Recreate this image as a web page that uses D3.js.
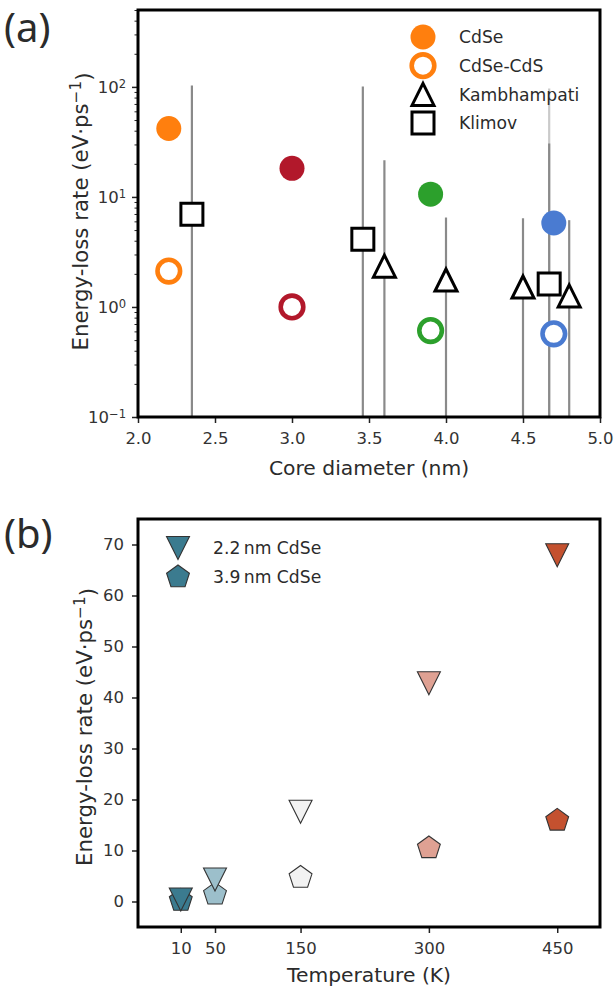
<!DOCTYPE html>
<html>
<head>
<meta charset="utf-8">
<script src="https://cdn.jsdelivr.net/npm/d3@7"></script>
<style>
  body { margin: 0; background: #fff; }
  text { font-family: "DejaVu Sans", sans-serif; fill: #2b2b2b; }
</style>
</head>
<body>
<svg id="fig" width="614" height="992"></svg>
<script>
// ---- panel (a) data ----
const cdseD = [2.2, 3.0, 3.9, 4.7];
const cdseRate = [41.9, 18.2, 10.6, 5.8];
const cdsRate = [2.12, 1.0, 0.61, 0.57];
const sizeColors = ['#ff7f0e', '#b2182b', '#2ca02c', '#4a7bd1'];

const klimovD = [2.35, 3.46, 4.67];
const klimovRate = [6.96, 4.13, 1.62];
const kambD = [3.6, 4.0, 4.5, 4.8];
const kambRate = [2.35, 1.76, 1.52, 1.26];

// vertical range lines (x, upper end)
const rangeX = [2.35, 3.46, 3.6, 4.0, 4.5, 4.8, 4.67];
const rangeTop = [103, 101, 21.5, 6.5, 6.4, 6.15, 30.6];
const faintX = [4.67];
const faintTop = [96.6];

const legendA = ['CdSe', 'CdSe-CdS', 'Kambhampati', 'Klimov'];
const xTicksA = [2.0, 2.5, 3.0, 3.5, 4.0, 4.5, 5.0];
const yTicksA = [0.1, 1, 10, 100];

// ---- panel (b) data ----
const temps = [10, 50, 150, 300, 450];
const rate22 = [0.4, 4.3, 17.6, 42.8, 67.9];
const rate39 = [0.2, 1.4, 4.7, 10.5, 15.9];
const tempColors = ['#3b7b8f', '#9cbfcb', '#f2f2f2', '#dfa193', '#c4512f'];
const legendB = ['2.2\u2009nm CdSe', '3.9\u2009nm CdSe'];
const yTicksB = [0, 10, 20, 30, 40, 50, 60, 70];

const svg = d3.select('#fig');
const tickFont = 16.5, labelFont = 20.3, yLabelFont = 21.3, legendFont = 17.2;

// marker shapes
function triUp(s) { return `M0,${-s}L${s},${s}L${-s},${s}Z`; }
function triDown(s) { return `M0,${s}L${s},${-s}L${-s},${-s}Z`; }
function square(s) { return `M${-s},${-s}H${s}V${s}H${-s}Z`; }
function pentagon(r) {
  const pts = d3.range(5).map(i => {
    const a = -Math.PI / 2 + i * 2 * Math.PI / 5;
    return [r * Math.cos(a), r * Math.sin(a)];
  });
  return 'M' + pts.join('L') + 'Z';
}

function styleAxis(g) {
  g.select('.domain').remove();
  g.selectAll('.tick line').attr('stroke', '#222').attr('stroke-width', 1.5);
  g.selectAll('.tick text').attr('font-size', tickFont).style('fill', '#333');
}

// =================== panel (a) ===================
const mA = {left: 138, right: 600, top: 10, bottom: 417};
const x = d3.scaleLinear().domain([2, 5]).range([mA.left, mA.right]);
const y = d3.scaleLog().domain([0.1, 500]).range([mA.bottom, mA.top]);

svg.append('defs').append('clipPath').attr('id', 'clipA')
  .append('rect')
  .attr('x', mA.left).attr('y', mA.top)
  .attr('width', mA.right - mA.left).attr('height', mA.bottom - mA.top);

const plotA = svg.append('g').attr('clip-path', 'url(#clipA)');

plotA.selectAll('.range')
  .data(rangeX.map((v, i) => ({x: v, top: rangeTop[i]})))
  .join('line')
  .attr('x1', d => x(d.x)).attr('x2', d => x(d.x))
  .attr('y1', y(0.05)).attr('y2', d => y(d.top))
  .attr('stroke', '#8a8a8a').attr('stroke-width', 2.2);

plotA.selectAll('.faint')
  .data(faintX.map((v, i) => ({x: v, top: faintTop[i]})))
  .join('line')
  .attr('x1', d => x(d.x)).attr('x2', d => x(d.x))
  .attr('y1', y(0.05)).attr('y2', d => y(d.top))
  .attr('stroke', '#8a8a8a').attr('stroke-opacity', 0.45).attr('stroke-width', 2.2);

// CdSe filled
plotA.selectAll('.cdse')
  .data(cdseD.map((d, i) => ({d, r: cdseRate[i], c: sizeColors[i]})))
  .join('circle')
  .attr('cx', d => x(d.d)).attr('cy', d => y(d.r)).attr('r', 12.5)
  .attr('fill', d => d.c);

// CdSe-CdS open
plotA.selectAll('.cds')
  .data(cdseD.map((d, i) => ({d, r: cdsRate[i], c: sizeColors[i]})))
  .join('circle')
  .attr('cx', d => x(d.d)).attr('cy', d => y(d.r)).attr('r', 11.3)
  .attr('fill', '#fff').attr('stroke', d => d.c).attr('stroke-width', 4.6);

// Klimov squares
plotA.selectAll('.klimov')
  .data(klimovD.map((d, i) => ({d, r: klimovRate[i]})))
  .join('path')
  .attr('transform', d => `translate(${x(d.d)},${y(d.r)})`)
  .attr('d', square(11))
  .attr('fill', '#fff').attr('stroke', '#000').attr('stroke-width', 3)
  .attr('stroke-linejoin', 'miter');

// Kambhampati triangles
plotA.selectAll('.kamb')
  .data(kambD.map((d, i) => ({d, r: kambRate[i]})))
  .join('path')
  .attr('transform', d => `translate(${x(d.d)},${y(d.r)})`)
  .attr('d', triUp(11))
  .attr('fill', '#fff').attr('stroke', '#000').attr('stroke-width', 3)
  .attr('stroke-linejoin', 'miter');

// axes (a)
const gxA = svg.append('g')
  .attr('transform', `translate(0,${mA.bottom})`)
  .call(d3.axisBottom(x).tickValues(xTicksA).tickFormat(d3.format('.1f')).tickSize(6).tickPadding(9));
styleAxis(gxA);

const minorA = [];
[0.1, 1, 10, 100].forEach(dec => d3.range(2, 10).forEach(k => {
  if (dec * k <= 500) minorA.push(dec * k);
}));
const gyMinor = svg.append('g')
  .attr('transform', `translate(${mA.left},0)`)
  .call(d3.axisLeft(y).tickValues(minorA).tickFormat('').tickSize(3.5));
gyMinor.select('.domain').remove();
gyMinor.selectAll('.tick line').attr('stroke', '#222').attr('stroke-width', 1);

const gyA = svg.append('g')
  .attr('transform', `translate(${mA.left},0)`)
  .call(d3.axisLeft(y).tickValues(yTicksA).tickFormat('').tickSize(6));
styleAxis(gyA);
gyA.selectAll('.tick').append('text')
  .attr('x', -12).attr('dy', '0.36em').attr('text-anchor', 'end')
  .attr('font-size', tickFont).style('fill', '#333')
  .each(function (d) {
    const t = d3.select(this);
    const e = Math.round(Math.log10(d));
    t.append('tspan').text('10');
    t.append('tspan').attr('dy', '-0.5em').attr('font-size', tickFont * 0.7)
      .text(e < 0 ? '\u2212' + (-e) : e);
  });

svg.append('rect')
  .attr('x', mA.left).attr('y', mA.top)
  .attr('width', mA.right - mA.left).attr('height', mA.bottom - mA.top)
  .attr('fill', 'none').attr('stroke', '#000').attr('stroke-width', 3);

svg.append('text')
  .attr('x', (mA.left + mA.right) / 2).attr('y', 475)
  .attr('text-anchor', 'middle').attr('font-size', labelFont)
  .text('Core diameter (nm)');

function yLabel(cx, cy) {
  const t = svg.append('text')
    .attr('transform', `translate(${cx},${cy}) rotate(-90)`)
    .attr('text-anchor', 'middle').attr('font-size', yLabelFont);
  t.append('tspan').text('Energy-loss rate (eV\u00b7ps');
  t.append('tspan').attr('dy', '-0.45em').attr('font-size', yLabelFont * 0.72).text('\u22121');
  t.append('tspan').attr('dy', '0.45em').text(')');
}
yLabel(88, (mA.top + mA.bottom) / 2 - 2);

svg.append('text').attr('x', 4).attr('y', 42)
  .style('font-family', '"Noto Sans", sans-serif').attr('font-size', 40).text('(a)');

// legend (a)
const legA = svg.append('g');
const legRowsA = legendA.map((name, i) => ({name, i, y: 37 + i * 28.7}));
legA.selectAll('text').data(legRowsA).join('text')
  .attr('x', 459).attr('y', d => d.y).attr('dy', '0.36em')
  .attr('font-size', legendFont).text(d => d.name);
legA.append('circle').attr('cx', 423).attr('cy', legRowsA[0].y).attr('r', 12.5)
  .attr('fill', sizeColors[0]);
legA.append('circle').attr('cx', 423).attr('cy', legRowsA[1].y).attr('r', 11.3)
  .attr('fill', '#fff').attr('stroke', sizeColors[0]).attr('stroke-width', 4.6);
legA.append('path').attr('transform', `translate(423,${legRowsA[2].y})`)
  .attr('d', triUp(11)).attr('fill', '#fff').attr('stroke', '#000').attr('stroke-width', 3);
legA.append('path').attr('transform', `translate(423,${legRowsA[3].y})`)
  .attr('d', square(11)).attr('fill', '#fff').attr('stroke', '#000').attr('stroke-width', 3);

// =================== panel (b) ===================
const mB = {left: 138, right: 600, top: 519, bottom: 927};
const xb = d3.scaleLinear().domain([-40, 500]).range([mB.left, mB.right]);
const yb = d3.scaleLinear().domain([-5, 75]).range([mB.bottom, mB.top]);

const plotB = svg.append('g');
plotB.selectAll('.pent')
  .data(temps.map((t, i) => ({t, r: rate39[i], c: tempColors[i]})))
  .join('path')
  .attr('transform', d => `translate(${xb(d.t)},${yb(d.r)})`)
  .attr('d', pentagon(12))
  .attr('fill', d => d.c).attr('stroke', '#333').attr('stroke-width', 1.1);
plotB.selectAll('.tri')
  .data(temps.map((t, i) => ({t, r: rate22[i], c: tempColors[i]})))
  .join('path')
  .attr('transform', d => `translate(${xb(d.t)},${yb(d.r)})`)
  .attr('d', triDown(11.5))
  .attr('fill', d => d.c).attr('stroke', '#333').attr('stroke-width', 1.1);

const gxB = svg.append('g')
  .attr('transform', `translate(0,${mB.bottom})`)
  .call(d3.axisBottom(xb).tickValues(temps).tickSize(6).tickPadding(9));
styleAxis(gxB);
const gyB = svg.append('g')
  .attr('transform', `translate(${mB.left},0)`)
  .call(d3.axisLeft(yb).tickValues(yTicksB).tickSize(6).tickPadding(8));
styleAxis(gyB);

svg.append('rect')
  .attr('x', mB.left).attr('y', mB.top)
  .attr('width', mB.right - mB.left).attr('height', mB.bottom - mB.top)
  .attr('fill', 'none').attr('stroke', '#000').attr('stroke-width', 3);

svg.append('text')
  .attr('x', (mB.left + mB.right) / 2).attr('y', 982)
  .attr('text-anchor', 'middle').attr('font-size', labelFont)
  .text('Temperature (K)');
yLabel(92, (mB.top + mB.bottom) / 2 + 4);

svg.append('text').attr('x', 4).attr('y', 548)
  .style('font-family', '"Noto Sans", sans-serif').attr('font-size', 40).text('(b)');

// legend (b)
const legB = svg.append('g');
const legRowsB = legendB.map((name, i) => ({name, y: 548 + i * 29}));
legB.selectAll('text').data(legRowsB).join('text')
  .attr('x', 213).attr('y', d => d.y).attr('dy', '0.36em')
  .attr('font-size', legendFont).text(d => d.name);
legB.append('path').attr('transform', `translate(178,${legRowsB[0].y})`)
  .attr('d', triDown(11.5)).attr('fill', tempColors[0]).attr('stroke', '#333').attr('stroke-width', 1.1);
legB.append('path').attr('transform', `translate(178,${legRowsB[1].y})`)
  .attr('d', pentagon(12)).attr('fill', tempColors[0]).attr('stroke', '#333').attr('stroke-width', 1.1);
</script>
</body>
</html>
